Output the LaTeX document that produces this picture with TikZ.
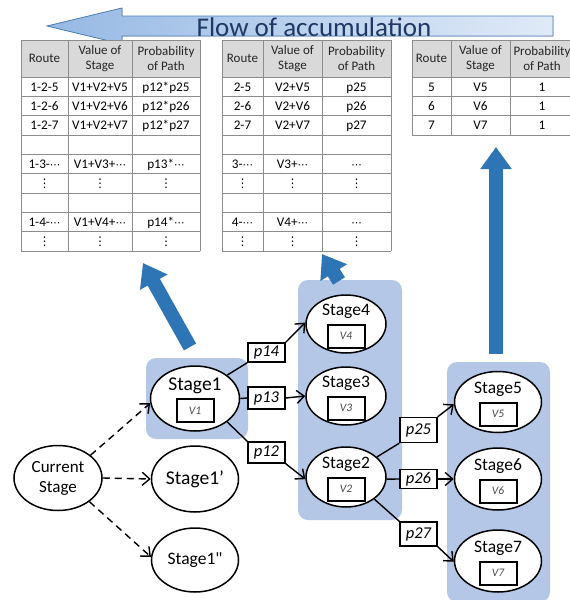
\documentclass[tikz,border=0pt]{standalone}
\usepackage{fontspec}
\setmainfont{Carlito}
\newfontfamily\dejavu{DejaVu Sans}
\usetikzlibrary{arrows.meta,shapes.geometric}
\definecolor{boxblue}{RGB}{180,199,231}
\definecolor{arrowblue}{RGB}{46,117,182}
\definecolor{gridgray}{RGB}{140,140,140}
\definecolor{headgray}{RGB}{217,217,217}
\definecolor{flowtext}{RGB}{31,56,100}
\definecolor{flowborder}{RGB}{79,129,189}
\definecolor{flowleft}{RGB}{150,185,228}
\definecolor{flowright}{RGB}{224,234,247}
\newcommand\dd{{\dejavu\fontsize{10.5}{12}\selectfont ⋯}}
\newcommand\trow[8]{%
  \node[cell] (#1-#2-1) at (#3,{77+19.33*(#2-0.5)+4.5}) {#6};
  \node[cell] (#1-#2-2) at (#4,{77+19.33*(#2-0.5)+4.5}) {#7};
  \node[cell] (#1-#2-3) at (#5,{77+19.33*(#2-0.5)+4.5}) {#8};}
\newcommand\tvd[5]{%
  \node[vcell] (#1-#2-1) at (#3,{77+19.33*(#2-0.5)}) {⋮};
  \node[vcell] (#1-#2-2) at (#4,{77+19.33*(#2-0.5)}) {⋮};
  \node[vcell] (#1-#2-3) at (#5,{77+19.33*(#2-0.5)}) {⋮};}
\newcommand\tgrid[5]{%
  \fill[headgray] (#1,40) rectangle (#4,77);
  \foreach \k in {0,...,#5} \draw[gridline] (#1,{77+19.33*\k}) -- (#4,{77+19.33*\k});
  \draw[gridline] (#1,40) -- (#4,40);
  \foreach \xx in {#1,#2,#3,#4} \draw[gridline] (\xx,40) -- (\xx,{77+19.33*#5});}
\newcommand\thead[4]{%
  \node[hcell] (#1-h1) at (#2,58.5) {Route};
  \node[hcell] (#1-h2) at (#3,58.5) {Value of\\Stage};
  \node[hcell] (#1-h3) at (#4,58.5) {Probability\\of Path};}
\begin{document}
\begin{tikzpicture}[x=1pt,y=-1pt,
  stage/.style={draw=black, line width=1.5pt, fill=white, ellipse, inner sep=0pt, align=center, font=\fontsize{17.5}{20}\selectfont},
  vbox/.style={draw=black, line width=2pt, minimum width=37pt, minimum height=23pt, inner sep=0pt, font=\fontsize{11.5}{13}\selectfont\itshape, text=black!70, fill=white},
  pbox/.style={draw=black, line width=1.4pt, fill=white, minimum width=37pt, inner sep=0pt, font=\fontsize{16.5}{18}\selectfont\itshape},
  stagetxt/.style={font=\fontsize{17.5}{20}\selectfont, inner sep=0pt},
  plain/.style={line width=1.4pt},
  conn/.style={line width=1.4pt, -{Straight Barb[length=7.5pt,width=13pt]}},
  dconn/.style={conn, dash pattern=on 7pt off 5pt},
  bigarrow/.style={line width=14pt, draw=arrowblue, -{Triangle[length=22pt,width=30pt,fill=arrowblue]}},
  cell/.style={font=\fontsize{13.2}{15}\selectfont, inner sep=0pt, anchor=base},
  vcell/.style={font=\dejavu\fontsize{12}{14}\selectfont, inner sep=0pt, anchor=center},
  hcell/.style={font=\fontsize{13}{15.5}\selectfont, inner sep=0pt, align=center, anchor=center, text=black!85},
  gridline/.style={draw=gridgray, line width=0.8pt},
  bluebox/.style={fill=boxblue, rounded corners=10pt}
]
\useasboundingbox (0,0) rectangle (570,600);

% top arrow
\filldraw[left color=flowleft, right color=flowright, draw=flowborder, line width=0.8pt]
  (47,26) -- (122,8) -- (122,16) -- (553,16) -- (553,36) -- (122,36) -- (122,44) -- cycle;
\node[font=\fontsize{27}{30}\selectfont, text=flowtext, anchor=base, inner sep=0pt] (flow) at (314,36) {Flow of accumulation};

% tables
\tgrid{21}{68}{132}{200}{9}
\thead{t1}{44.5}{100}{166}
\trow{t1}{1}{44.5}{100}{166}{1-2-5}{V1+V2+V5}{p12*p25}
\trow{t1}{2}{44.5}{100}{166}{1-2-6}{V1+V2+V6}{p12*p26}
\trow{t1}{3}{44.5}{100}{166}{1-2-7}{V1+V2+V7}{p12*p27}
\trow{t1}{5}{44.5}{100}{166}{1-3-\dd}{V1+V3+\dd}{p13*\dd}
\tvd{t1}{6}{44.5}{100}{166}
\trow{t1}{8}{44.5}{100}{166}{1-4-\dd}{V1+V4+\dd}{p14*\dd}
\tvd{t1}{9}{44.5}{100}{166}

\tgrid{222}{263}{322}{391}{9}
\thead{t2}{242.5}{292.5}{356.5}
\trow{t2}{1}{242.5}{292.5}{356.5}{2-5}{V2+V5}{p25}
\trow{t2}{2}{242.5}{292.5}{356.5}{2-6}{V2+V6}{p26}
\trow{t2}{3}{242.5}{292.5}{356.5}{2-7}{V2+V7}{p27}
\trow{t2}{5}{242.5}{292.5}{356.5}{3-\dd}{V3+\dd}{\dd}
\tvd{t2}{6}{242.5}{292.5}{356.5}
\trow{t2}{8}{242.5}{292.5}{356.5}{4-\dd}{V4+\dd}{\dd}
\tvd{t2}{9}{242.5}{292.5}{356.5}

\tgrid{412}{451}{510}{576}{3}
\thead{t3}{431.5}{480.5}{542}
\trow{t3}{1}{431.5}{480.5}{542}{5}{V5}{1}
\trow{t3}{2}{431.5}{480.5}{542}{6}{V6}{1}
\trow{t3}{3}{431.5}{480.5}{542}{7}{V7}{1}

% blue group boxes
\fill[bluebox] (146,358) rectangle (248,439);
\fill[bluebox] (298,280) rectangle (402,520);
\fill[bluebox] (447,362) rectangle (550,602);

% big blue arrows
\coordinate (a1s) at (190,347); \coordinate (a1e) at (143,263);
\coordinate (a2s) at (339,281); \coordinate (a2e) at (322,254);
\coordinate (a3s) at (496,354); \coordinate (a3e) at (496,147);
\draw[bigarrow] (a1s) -- (a1e);
\draw[bigarrow] (a2s) -- (a2e);
\draw[bigarrow] (a3s) -- (a3e);

% stage nodes
\node[stage, minimum width=88pt, minimum height=65pt, font=\fontsize{17}{20}\selectfont] (cur) at (58,478) {Current\\Stage};
\node[stage, minimum width=89pt, minimum height=65pt] (s1) at (195,398.5) {};
\node[stage, minimum width=87pt, minimum height=66pt, font=\fontsize{19.5}{22}\selectfont] (s1p) at (195,479) {Stage1’};
\node[stage, minimum width=87pt, minimum height=64pt] (s1pp) at (195,560) {Stage1\textquotedbl};
\node[stage, minimum width=80pt, minimum height=58pt] (s4) at (346,324) {};
\node[stage, minimum width=80pt, minimum height=58pt] (s3) at (346,396) {};
\node[stage, minimum width=80pt, minimum height=60pt] (s2) at (346,477) {};
\node[stage, minimum width=87pt, minimum height=61pt] (s5) at (498,402) {};
\node[stage, minimum width=87pt, minimum height=62pt] (s6) at (498,479) {};
\node[stage, minimum width=87pt, minimum height=62pt] (s7) at (498,561) {};

\node[stagetxt, yshift=13pt, font=\fontsize{19.5}{22}\selectfont] (s1t) at (s1.center) {Stage1};
\node[vbox, yshift=-12pt] (s1v) at (s1.center) {V1};
\foreach \n/\t/\v in {s4/Stage4/V4, s3/Stage3/V3, s2/Stage2/V2, s5/Stage5/V5, s6/Stage6/V6, s7/Stage7/V7}{
  \node[stagetxt, yshift=13pt] (\n t) at (\n.center) {\t};
  \node[vbox, yshift=-12pt] (\n v) at (\n.center) {\v};
}

% p labels
\node[pbox, minimum height=19pt] (p14) at (266.5,352.5) {p14};
\node[pbox, minimum height=22pt] (p13) at (266.5,398) {p13};
\node[pbox, minimum height=21pt] (p12) at (266.5,452.5) {p12};
\node[pbox, minimum height=25pt] (p25) at (418.5,430) {p25};
\node[pbox, minimum height=19pt] (p26) at (418.5,479) {p26};
\node[pbox, minimum height=24pt] (p27) at (418.5,534) {p27};

% dashed connectors
\draw[dconn] (cur.35) -- (s1.186);
\draw[dconn] (cur.east) -- (s1p.west);
\draw[dconn] (cur.-37) -- (s1pp.176);

% solid connectors
\draw[plain] (s1.36) -- (p14.south west);
\draw[conn] (p14.north east) -- (s4.178);
\draw[plain] (s1.east) -- (p13.west);
\draw[conn] (p13.east) -- (s3.west);
\draw[plain] (s1.-36) -- (p12.north west);
\draw[conn] (p12.south east) -- (s2.183);
\draw[plain] (s2.33) -- (p25.south west);
\draw[conn] (p25.north east) -- (s5.183);
\draw[plain] (s2.-3) -- (p26.west);
\draw[conn] (p26.east) -- (s6.west);
\draw[plain] (s2.-38) -- (p27.north west);
\draw[conn] (p27.south east) -- (s7.181);
\end{tikzpicture}
\end{document}
